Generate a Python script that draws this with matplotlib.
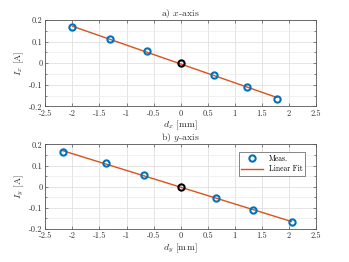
import matplotlib
matplotlib.use("Agg")
import matplotlib.pyplot as plt
import numpy as np
from matplotlib.ticker import MultipleLocator

plt.rcParams['font.family'] = 'serif'
plt.rcParams['font.serif'] = ['cmr10', 'DejaVu Serif']
plt.rcParams['mathtext.fontset'] = 'cm'
plt.rcParams['axes.unicode_minus'] = False
plt.rcParams['axes.formatter.use_mathtext'] = False

# Data
dx = [-2.0, -1.3, -0.62, 0.0, 0.62, 1.23, 1.78]
Ix = [0.165, 0.11, 0.055, 0.0, -0.055, -0.11, -0.165]
dy = [-2.18, -1.38, -0.68, 0.0, 0.65, 1.33, 2.05]
Iy = [0.165, 0.11, 0.055, 0.0, -0.055, -0.11, -0.165]

xticks = [-2.5, -2, -1.5, -1, -0.5, 0, 0.5, 1, 1.5, 2, 2.5]
yticks = [-0.2, -0.1, 0, 0.1, 0.2]

blue = '#0072BD'
orange = '#D95319'
axc = '#555555'

fig = plt.figure(figsize=(3.49, 2.62), dpi=100)
ax1 = fig.add_axes([0.130, 0.594, 0.775, 0.330])
ax2 = fig.add_axes([0.130, 0.126, 0.775, 0.323])

def draw(ax, d, I, title, xl, yl, legend=False):
    d = np.array(d); I = np.array(I)
    p = np.polyfit(d, I, 1)
    xs = np.array([d.min(), d.max()])
    ax.plot(xs, np.polyval(p, xs), color=orange, lw=1.0, label='Linear Fit', zorder=2)
    mask = d != 0
    ax.plot(d[mask], I[mask], 'o', mfc='none', mec=blue, mew=1.5, ms=4.5, label='Meas.', zorder=3, linestyle='none')
    ax.plot(d[~mask], I[~mask], 'o', mfc='none', mec='black', mew=1.5, ms=4.5, zorder=4)
    ax.set_xlim(-2.5, 2.5)
    ax.set_ylim(-0.2, 0.2)
    ax.set_xticks(xticks)
    ax.set_xticklabels([('%g' % t) for t in xticks])
    ax.set_yticks(yticks)
    ax.set_yticklabels([('%g' % t) for t in yticks])
    ax.yaxis.set_minor_locator(MultipleLocator(0.05))
    ax.grid(True, which='major', color='#e0e0e0', lw=0.6)
    ax.grid(True, which='minor', axis='y', color='#ececec', lw=0.5)
    ax.set_axisbelow(True)
    ax.tick_params(which='both', direction='in', top=True, right=True, labelsize=6, colors=axc, labelcolor='#333333', length=2.5, width=0.5, pad=2)
    ax.tick_params(which='minor', length=1.5)
    for s in ax.spines.values():
        s.set_color(axc); s.set_linewidth(0.6)
    ax.set_title(title, fontsize=7, pad=3, color='#333333')
    ax.set_xlabel(xl, fontsize=7, labelpad=1, color='#333333')
    ax.set_ylabel(yl, fontsize=7, labelpad=2, color='#333333')
    if legend:
        hl, ll = ax.get_legend_handles_labels()
        order = [ll.index('Meas.'), ll.index('Linear Fit')]
        leg = ax.legend([hl[i] for i in order], [ll[i] for i in order], loc='upper right', fontsize=5.5, fancybox=False, edgecolor='#555555', framealpha=1, handlelength=2.8, borderpad=0.35, labelspacing=0.3, bbox_to_anchor=(0.975, 0.96))
        leg.get_frame().set_linewidth(0.5)

draw(ax1, dx, Ix, 'a) $x$-axis', '$d_x$ [mm]', '$I_x$ [A]')
draw(ax2, dy, Iy, 'b) $y$-axis', '$d_y$ [mm]', '$I_y$ [A]', legend=True)

fig.savefig('out.png', dpi=100)
